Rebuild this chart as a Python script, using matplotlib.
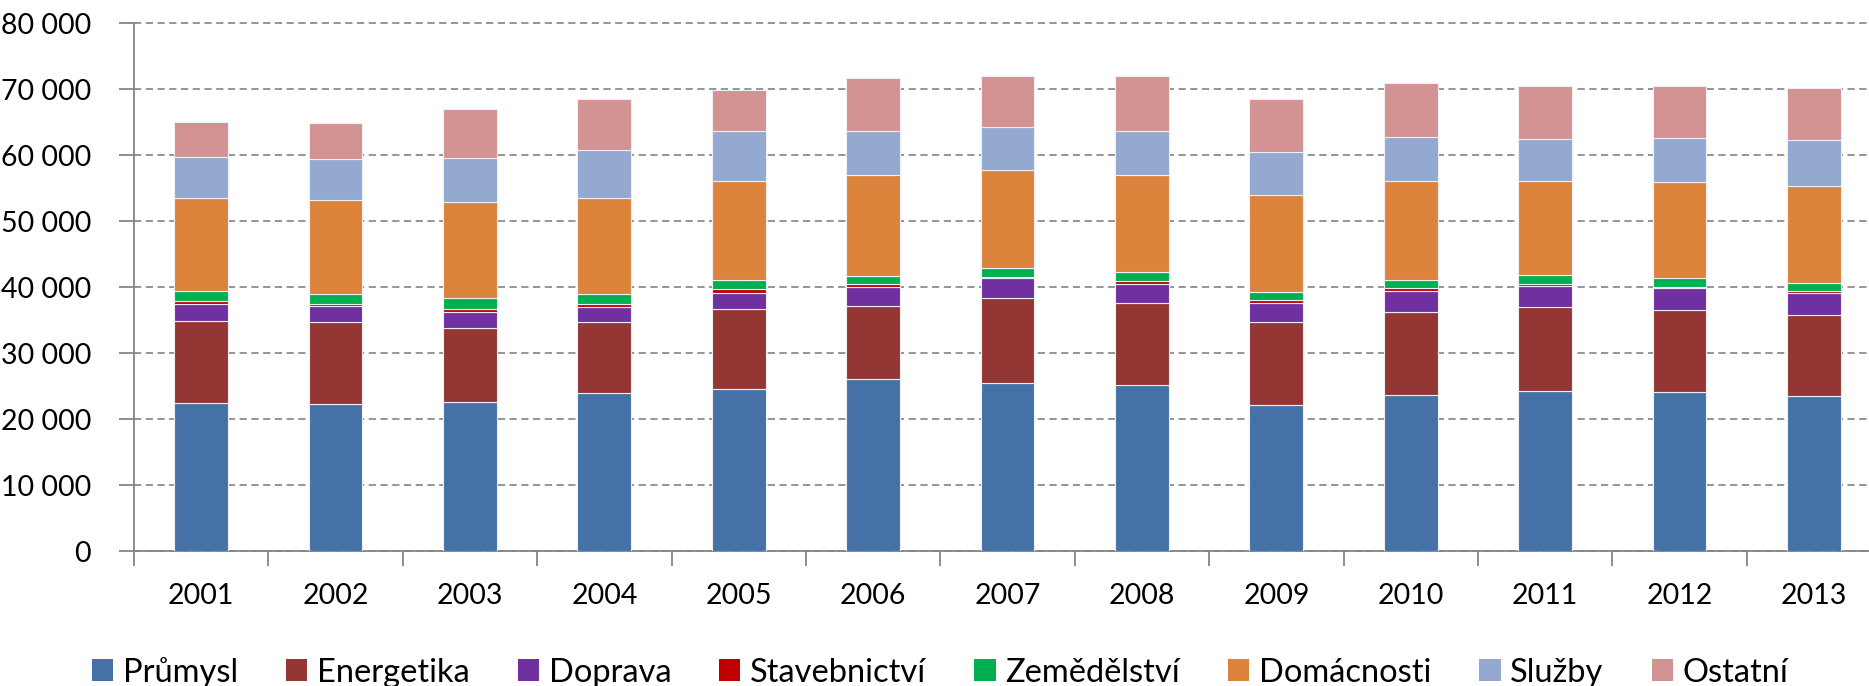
import matplotlib
matplotlib.use("Agg")
import matplotlib.pyplot as plt
import numpy as np
from matplotlib.patches import Patch
from matplotlib.ticker import FuncFormatter, FixedLocator

years = ["2001", "2002", "2003", "2004", "2005", "2006", "2007",
         "2008", "2009", "2010", "2011", "2012", "2013"]

prumysl      = [22380, 22270, 22550, 23890, 24500, 26010, 25400, 25120, 22150, 23610, 24170, 24060, 23550]
energetika   = [12530, 12360, 11300, 10740, 12200, 11140, 12870, 12530, 12590, 12530, 12870, 12530, 12250]
doprava      = [2520, 2460, 2400, 2410, 2400, 2910, 3020, 2800, 2910, 3190, 3180, 3190, 3360]
stavebnictvi = [390, 340, 450, 390, 560, 330, 280, 390, 340, 450, 280, 280, 220]
zemedelstvi  = [1560, 1560, 1570, 1510, 1400, 1290, 1340, 1450, 1280, 1280, 1290, 1340, 1240]
domacnosti   = [14100, 14160, 14600, 14600, 15000, 15270, 14770, 14660, 14720, 15000, 14270, 14540, 14710]
sluzby       = [6210, 6260, 6650, 7160, 7550, 6660, 6540, 6710, 6490, 6600, 6370, 6660, 6880]
ostatni      = [5370, 5490, 7390, 7830, 6260, 8000, 7780, 8340, 8050, 8280, 8060, 7830, 7940]

series_names = ["Průmysl", "Energetika", "Doprava", "Stavebnictví",
                "Zemědělství", "Domácnosti", "Služby", "Ostatní"]
series_values = [prumysl, energetika, doprava, stavebnictvi,
                 zemedelstvi, domacnosti, sluzby, ostatni]
colors = ["#4571A6", "#943634", "#7030A0", "#C00000",
          "#00B050", "#DC843C", "#93A9CF", "#D29392"]

y_ticks = [0, 10000, 20000, 30000, 40000, 50000, 60000, 70000, 80000]

plt.rcParams['font.family'] = ['Lato', 'DejaVu Sans']

fig = plt.figure(figsize=(18.69, 6.86), dpi=100)
ax = fig.add_axes([134 / 1869, 1 - 551 / 686, 1 - 134 / 1869, (551 - 23) / 686])

x = np.arange(len(years))
bottom = np.zeros(len(years))
for name, vals, col in zip(series_names, series_values, colors):
    v = np.array(vals, dtype=float)
    ax.bar(x, v, 0.40, bottom=bottom, color=col, edgecolor="#EEEEF4",
           linewidth=0.8, zorder=3, label=name)
    bottom += v

ax.set_xlim(-0.5, 12.41)
ax.set_ylim(0, 80000)
ax.set_yticks(y_ticks)
ax.yaxis.set_major_formatter(FuncFormatter(lambda v, p: f"{int(v):,}".replace(",", " ")))
ax.yaxis.grid(True, linestyle=(0, (4, 2.5)), color="#8C8C8C", linewidth=1.3, zorder=0)
ax.set_axisbelow(True)
for gl in ax.get_ygridlines():
    gl.set_clip_on(False)

ax.set_xticks(x)
ax.set_xticklabels(years)
ax.xaxis.set_minor_locator(FixedLocator(np.arange(-0.5, 12.6, 1.0)))
ax.tick_params(axis="x", which="major", length=0, pad=23, labelsize=20.5)
ax.tick_params(axis="x", which="minor", length=11, width=1.3, color="#868686", direction="out")
ax.tick_params(axis="y", which="major", length=11, width=1.3, color="#868686",
               direction="out", labelsize=20.5, pad=20)

for s in ["top", "right"]:
    ax.spines[s].set_visible(False)
for s in ["left", "bottom"]:
    ax.spines[s].set_color("#868686")
    ax.spines[s].set_linewidth(1.3)

handles = [Patch(facecolor=c, edgecolor="none") for c in colors]
fig.legend(handles, series_names, loc="center", bbox_to_anchor=(0.503, 0.02),
           ncol=8, frameon=False, fontsize=23.5, handlelength=0.65, handleheight=0.65,
           handletextpad=0.3, columnspacing=1.47, borderaxespad=0)

fig.savefig("out.png", dpi=100)
